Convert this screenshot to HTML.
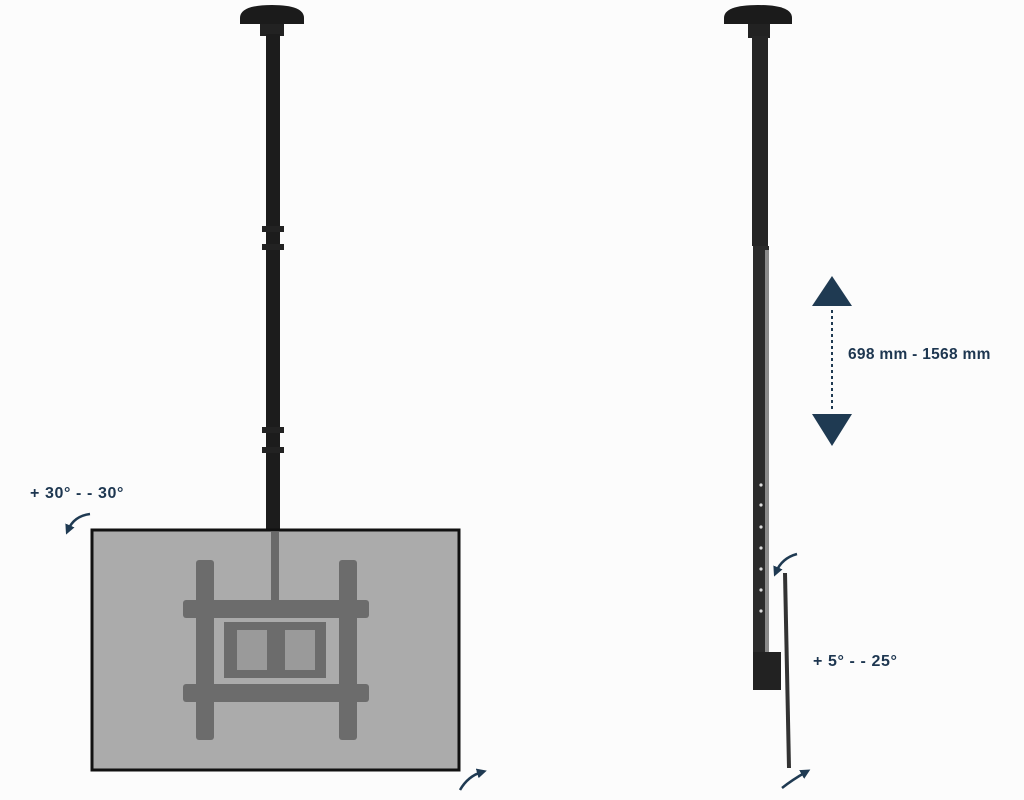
<!DOCTYPE html>
<html><head><meta charset="utf-8"><style>
html,body{margin:0;padding:0;background:#fcfcfc;}
body{width:1024px;height:800px;overflow:hidden;position:relative;font-family:"Liberation Sans",sans-serif;}
.t{position:absolute;font-weight:bold;color:#1d3650;font-size:16px;white-space:nowrap;}
</style></head><body>
<svg width="1024" height="800" viewBox="0 0 1024 800" style="position:absolute;left:0;top:0">
<defs>
<marker id="ah" viewBox="0 0 10 10" refX="5" refY="5" markerWidth="4" markerHeight="4" orient="auto"><path d="M0,0L10,5L0,10z" fill="#1f3a52"/></marker>
</defs>
<path d="M240,18 Q240,5 272,5 Q304,5 304,18 L304,24 L240,24z" fill="#1b1b1b"/>
<rect x="260" y="24" width="24" height="12" fill="#222"/>
<rect x="266" y="34" width="14" height="496" fill="#1c1c1c"/>
<rect x="262" y="226" width="22" height="6" fill="#222"/>
<rect x="262" y="244" width="22" height="6" fill="#222"/>
<rect x="262" y="427" width="22" height="6" fill="#222"/>
<rect x="262" y="447" width="22" height="6" fill="#222"/>
<rect x="92" y="530" width="367" height="240" fill="#ababab" stroke="#111" stroke-width="3"/>
<rect x="271" y="532" width="8" height="70" fill="#6a6a6a"/>
<g fill="#6c6c6c">
<rect x="196" y="560" width="18" height="180" rx="3"/>
<rect x="339" y="560" width="18" height="180" rx="3"/>
<rect x="183" y="600" width="186" height="18" rx="3"/>
<rect x="183" y="684" width="186" height="18" rx="3"/>
<rect x="224" y="622" width="102" height="56"/>
</g>
<rect x="237" y="630" width="30" height="40" fill="#9a9a9a"/>
<rect x="285" y="630" width="30" height="40" fill="#9a9a9a"/>
<path d="M724,18 Q724,5 758,5 Q792,5 792,18 L792,24 L724,24z" fill="#1b1b1b"/>
<rect x="748" y="24" width="22" height="14" fill="#222"/>
<rect x="752" y="36" width="16" height="210" fill="#252525"/>
<rect x="753" y="246" width="16" height="410" fill="#2b2b2b"/>
<rect x="765" y="250" width="4" height="410" fill="#8a8a8a"/>
<g fill="#ddd"><circle cx="761" cy="485" r="1.6"/><circle cx="761" cy="505" r="1.6"/><circle cx="761" cy="527" r="1.6"/><circle cx="761" cy="548" r="1.6"/><circle cx="761" cy="569" r="1.6"/><circle cx="761" cy="590" r="1.6"/><circle cx="761" cy="611" r="1.6"/></g>
<rect x="753" y="652" width="28" height="38" fill="#222"/>
<polygon points="783,573 787,573 791,768 787,768" fill="#333"/>
<polygon points="812,306 832,276 852,306" fill="#1f3a52"/>
<polygon points="812,414 832,446 852,414" fill="#1f3a52"/>
<line x1="832" y1="310" x2="832" y2="410" stroke="#1f3a52" stroke-width="2" stroke-dasharray="3,3"/>
<path d="M90,514 Q74,516 68,530" fill="none" stroke="#1f3a52" stroke-width="2.5" marker-end="url(#ah)"/>
<path d="M460,790 Q468,776 482,772" fill="none" stroke="#1f3a52" stroke-width="2.5" marker-end="url(#ah)"/>
<path d="M797,554 Q782,558 776,572" fill="none" stroke="#1f3a52" stroke-width="2.5" marker-end="url(#ah)"/>
<path d="M782,788 Q792,780 806,772" fill="none" stroke="#1f3a52" stroke-width="2.5" marker-end="url(#ah)"/>
</svg>
<div class="t" style="left:30px;top:485px;letter-spacing:0.6px;">+ 30° - - 30°</div>
<div class="t" style="left:848px;top:346px;font-size:15.5px;letter-spacing:0.3px;">698 mm - 1568 mm</div>
<div class="t" style="left:813px;top:653px;letter-spacing:0.6px;">+ 5° - - 25°</div>
</body></html>
